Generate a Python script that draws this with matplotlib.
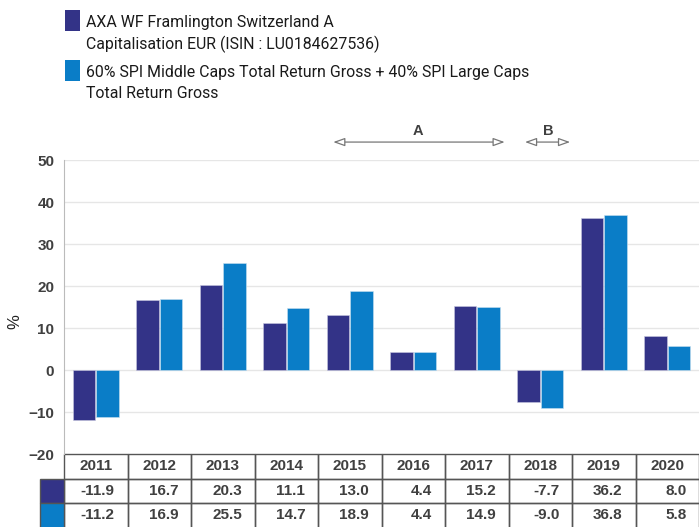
import matplotlib.pyplot as plt
from matplotlib.patches import Rectangle

years = ["2011", "2012", "2013", "2014", "2015", "2016", "2017", "2018", "2019", "2020"]
fund = [-11.9, 16.7, 20.3, 11.1, 13.0, 4.4, 15.2, -7.7, 36.2, 8.0]
bench = [-11.2, 16.9, 25.5, 14.7, 18.9, 4.4, 14.9, -9.0, 36.8, 5.8]
fund_label = ["AXA WF Framlington Switzerland A", "Capitalisation EUR (ISIN : LU0184627536)"]
bench_label = ["60% SPI Middle Caps Total Return Gross + 40% SPI Large Caps", "Total Return Gross"]

NAVY = "#333387"
BLUE = "#0A7DC7"
TXT = "#404040"

W, H = 699, 527
fig = plt.figure(figsize=(W / 100, H / 100), dpi=100)

# axes in pixel space: left 64, right 699, top 160, bottom 454
ax_l, ax_r, ax_t, ax_b = 64, 699, 160, 454
ax = fig.add_axes([ax_l / W, 1 - ax_b / H, (ax_r - ax_l) / W, (ax_b - ax_t) / H])

x = list(range(len(years)))
bw = 0.35
ax.bar([i - bw / 2 - 0.01 for i in x], fund, width=bw, color=NAVY, edgecolor="#c8c8e0", linewidth=0.4, zorder=3)
ax.bar([i + bw / 2 + 0.01 for i in x], bench, width=bw, color=BLUE, edgecolor="#c8e0f0", linewidth=0.4, zorder=3)

ax.set_xlim(-0.5, len(years) - 0.5)
ax.set_ylim(-20, 50)
ax.set_yticks(range(-20, 51, 10))
ax.set_xticks([])
ax.grid(axis="y", color="#e6e6e6", linewidth=1, zorder=0)
for s in ["top", "right", "bottom"]:
    ax.spines[s].set_visible(False)
ax.spines["left"].set_color("#bbbbbb")
ax.tick_params(axis="y", length=0, pad=7)
for lab in ax.get_yticklabels():
    lab.set_fontweight("bold")
    lab.set_color(TXT)
    lab.set_fontsize(11)
    lab.set_family("Liberation Sans")
ax.set_ylabel("%", fontsize=12, color="#222222", family="Liberation Sans")
ax.yaxis.set_label_coords(-(ax_l - 22) / (ax_r - ax_l), (ax_b - 322) / (ax_b - ax_t))

# data table under the axes
row_h = 24.5 / (ax_b - ax_t)
trans = ax.get_xaxis_transform()
rows = [years, ["%.1f" % v for v in fund], ["%.1f" % v for v in bench]]
for r, vals in enumerate(rows):
    y0 = -(r + 1) * row_h
    for i, v in enumerate(vals):
        ax.add_patch(Rectangle((i - 0.5, y0), 1, row_h, transform=trans, fill=False,
                               edgecolor="#555555", linewidth=1, clip_on=False))
        if r == 0:
            ax.text(i, y0 + row_h / 2, v, transform=trans, ha="center", va="center",
                    fontsize=11, fontweight="bold", color=TXT, family="Liberation Sans")
        else:
            ax.text(i + 0.3, y0 + row_h / 2, v, transform=trans, ha="right", va="center",
                    fontsize=11, fontweight="bold", color=TXT, family="Liberation Sans")
# colour keys on the left of the table
for r, c in [(1, NAVY), (2, BLUE)]:
    y0 = -(r + 1) * row_h
    ax.add_patch(Rectangle((-0.88, y0), 0.38, row_h, transform=trans, facecolor=c,
                           edgecolor="#555555", linewidth=1, clip_on=False))

# period arrows
arrow = dict(arrowstyle="<|-|>,head_length=0.7,head_width=0.25", fc="white", ec="#777777", lw=0.9,
             shrinkA=0, shrinkB=0)
ax.annotate("", xy=(3.74, 1.061), xytext=(6.44, 1.061), xycoords=trans, textcoords=trans, arrowprops=arrow)
ax.annotate("", xy=(6.76, 1.061), xytext=(7.47, 1.061), xycoords=trans, textcoords=trans, arrowprops=arrow)
ax.text(5.07, 1.10, "A", transform=trans, ha="center", va="center", fontsize=10.5, fontweight="bold",
        color=TXT, family="Liberation Sans")
ax.text(7.12, 1.10, "B", transform=trans, ha="center", va="center", fontsize=10.5, fontweight="bold",
        color=TXT, family="Liberation Sans")

# legend at the top, one text per line
leg_font = ["Roboto", "DejaVu Sans"]
for (y_top, c, lines) in [(10, NAVY, fund_label), (60, BLUE, bench_label)]:
    fig.patches.append(Rectangle((65 / W, 1 - (y_top + 21) / H), 15 / W, 21 / H,
                                 transform=fig.transFigure, facecolor=c, edgecolor="none"))
    for k, line in enumerate(lines):
        fig.text(86 / W, 1 - (y_top + 12 + 22 * k) / H, line, ha="left", va="center",
                 fontsize=11.4, color="#1a1a1a", family=leg_font)

fig.savefig("out.png", dpi=100)
